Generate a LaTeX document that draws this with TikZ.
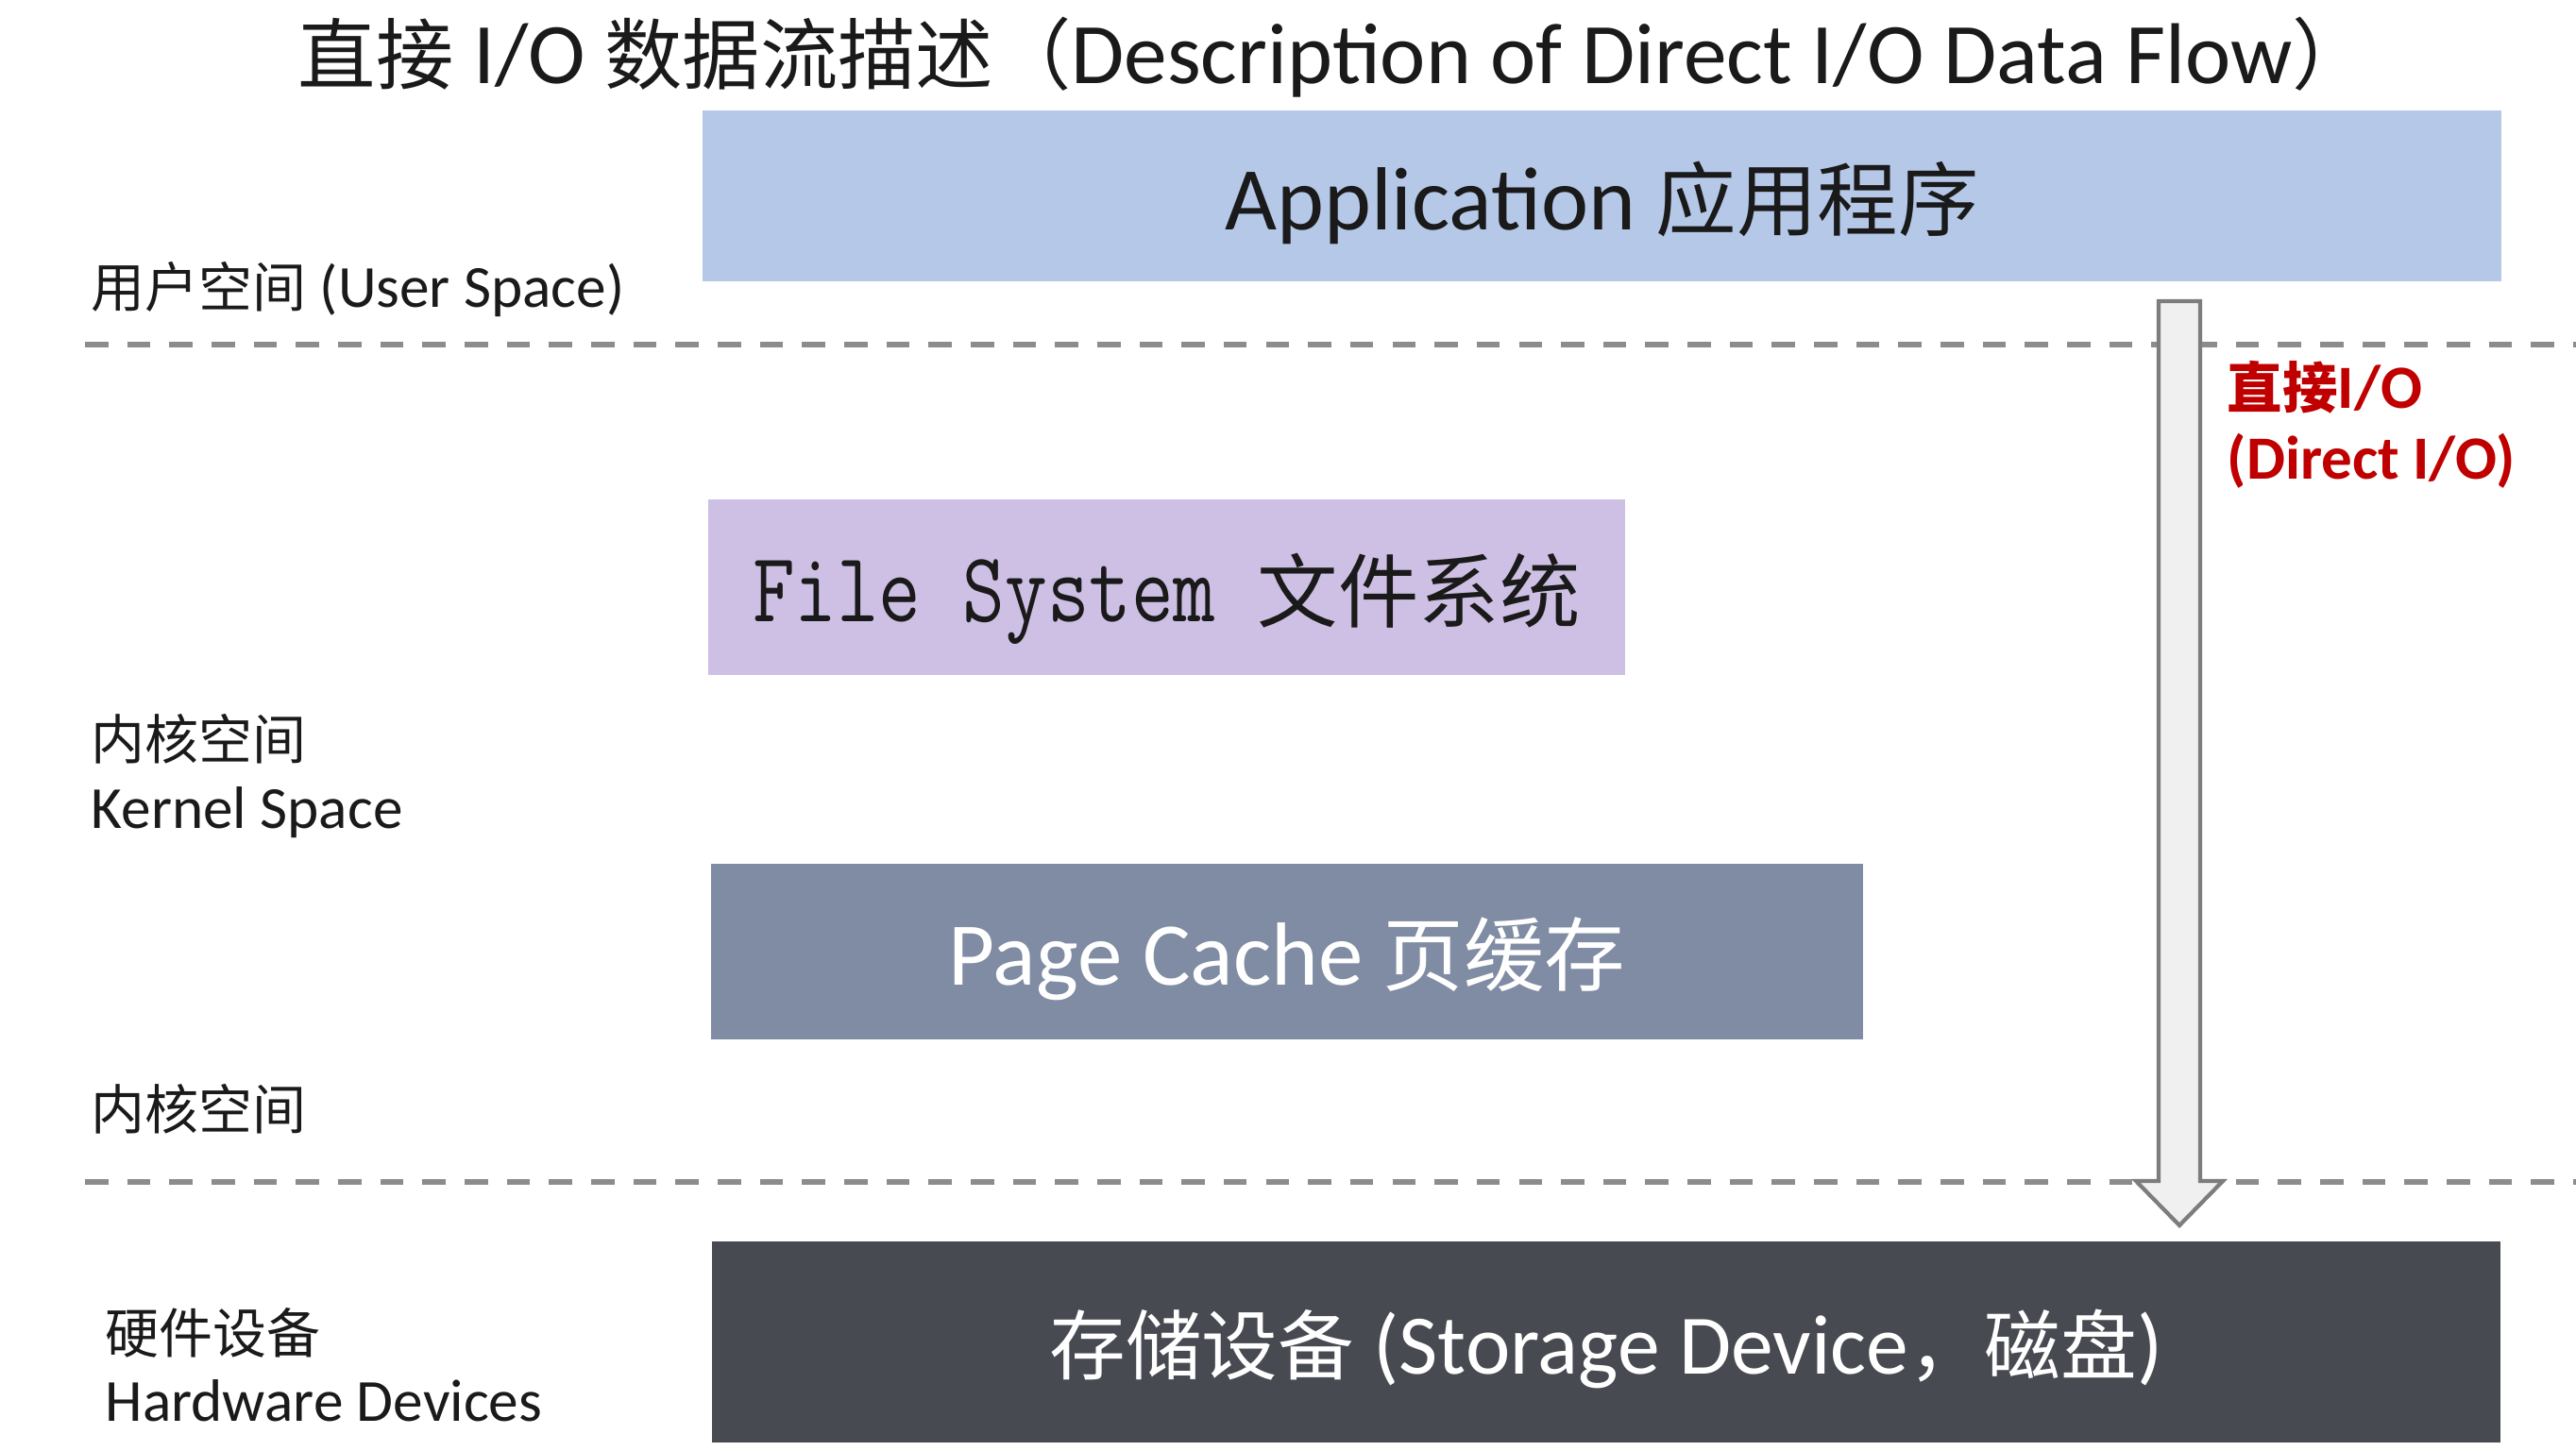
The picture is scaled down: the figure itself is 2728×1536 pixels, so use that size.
\documentclass[tikz,border=0pt]{standalone}
\usepackage{fontspec}
\setmainfont{Carlito}
\newfontfamily\cjk[Scale=0.9]{Noto Sans CJK SC}
\newfontfamily\fsmono[FakeStretch=0.82]{Latin Modern Mono}
\newcommand{\sz}[2]{\fontsize{#1pt}{#2pt}\selectfont}
\definecolor{AppBlue}{RGB}{181,200,232}
\definecolor{FsLilac}{RGB}{206,192,228}
\definecolor{CacheSlate}{RGB}{128,140,163}
\definecolor{DiskDark}{RGB}{72,74,82}
\definecolor{SepGray}{RGB}{140,140,140}
\definecolor{ArrowGray}{RGB}{125,125,125}
\definecolor{ArrowFill}{RGB}{240,240,240}
\definecolor{DirectRed}{RGB}{192,0,0}
\definecolor{LabelBlack}{RGB}{26,26,26}
\usetikzlibrary{positioning,calc}

\begin{document}
\begin{tikzpicture}[x=0.01cm, y=-0.01cm, every node/.style={inner sep=0pt,text=LabelBlack},
box/.style={minimum height=1.86cm,align=center,text depth=0pt},
lbl/.style={anchor=west,align=left,font=\sz{18}{20.5}},
sepline/.style={draw=SepGray,line width=1.7pt,dash pattern=on 7pt off 5.7pt},
bigarrow/.style={draw=ArrowGray,fill=ArrowFill,line width=1.2pt,line join=miter}]
\fill[white] (0,0) rectangle (2728,1536);
\useasboundingbox (0,0) rectangle (2728,1536);
% title
\node[font=\sz{26}{30}] (title) at (1413,61) {{\cjk 直接} I/O {\cjk 数据流描述（}Description of Direct I/O Data Flow{\cjk ）}};
% layers
\node[box, fill=AppBlue, minimum width=19.03cm, minimum height=1.81cm, font=\sz{27}{30}] (app) at (1696.5,207.5) {Application {\cjk 应用程序}};
\node[box, fill=FsLilac, minimum width=9.71cm, font=\sz{27}{30}] (fs) at (1235.5,622) {{\fsmono\sz{30}{30}File System }{\cjk 文件系统}};
\node[box, fill=CacheSlate, minimum width=12.2cm, font=\sz{27}{30}, text=white] (cache) at (1363,1008) {Page Cache {\cjk 页缓存}};
\node[box, fill=DiskDark, minimum width=18.92cm, minimum height=2.13cm, font=\sz{25.5}{30}, text=white] (disk) at (1701,1421.5) {{\cjk 存储设备} (Storage Device{\cjk ，磁盘})};
% space labels
\node[lbl] (userlbl) at (96,306) {{\cjk 用户空间} (User Space)};
\node[lbl] (kernlbl) at (96,822) {{\cjk 内核空间}\\Kernel Space};
\node[lbl] (kernlbl2) at (96,1175) {{\cjk 内核空间}};
\node[lbl] (hwlbl) at (111,1446) {{\cjk 硬件设备}\\Hardware Devices};
% boundaries
\draw[sepline] (90,365) -- (2728,365);
\draw[sepline] (90,1252) -- (2728,1252);
% direct I/O path
\coordinate (dtop) at (2308,319);
\coordinate (dtip) at (2308,1298);
\draw[bigarrow] ($(dtop)+(-22,0)$) -- ($(dtop)+(22,0)$) -- ($(dtip)+(22,-47)$) -- ($(dtip)+(46,-47)$)
  -- (dtip) -- ($(dtip)+(-46,-47)$) -- ($(dtip)+(-22,-47)$) -- cycle;
\node[lbl, font=\sz{18.5}{21.3}\bfseries, text=DirectRed] (directlbl) at (2358,450) {{\cjk 直接}I/O\\(Direct I/O)};
\end{tikzpicture}
\end{document}
